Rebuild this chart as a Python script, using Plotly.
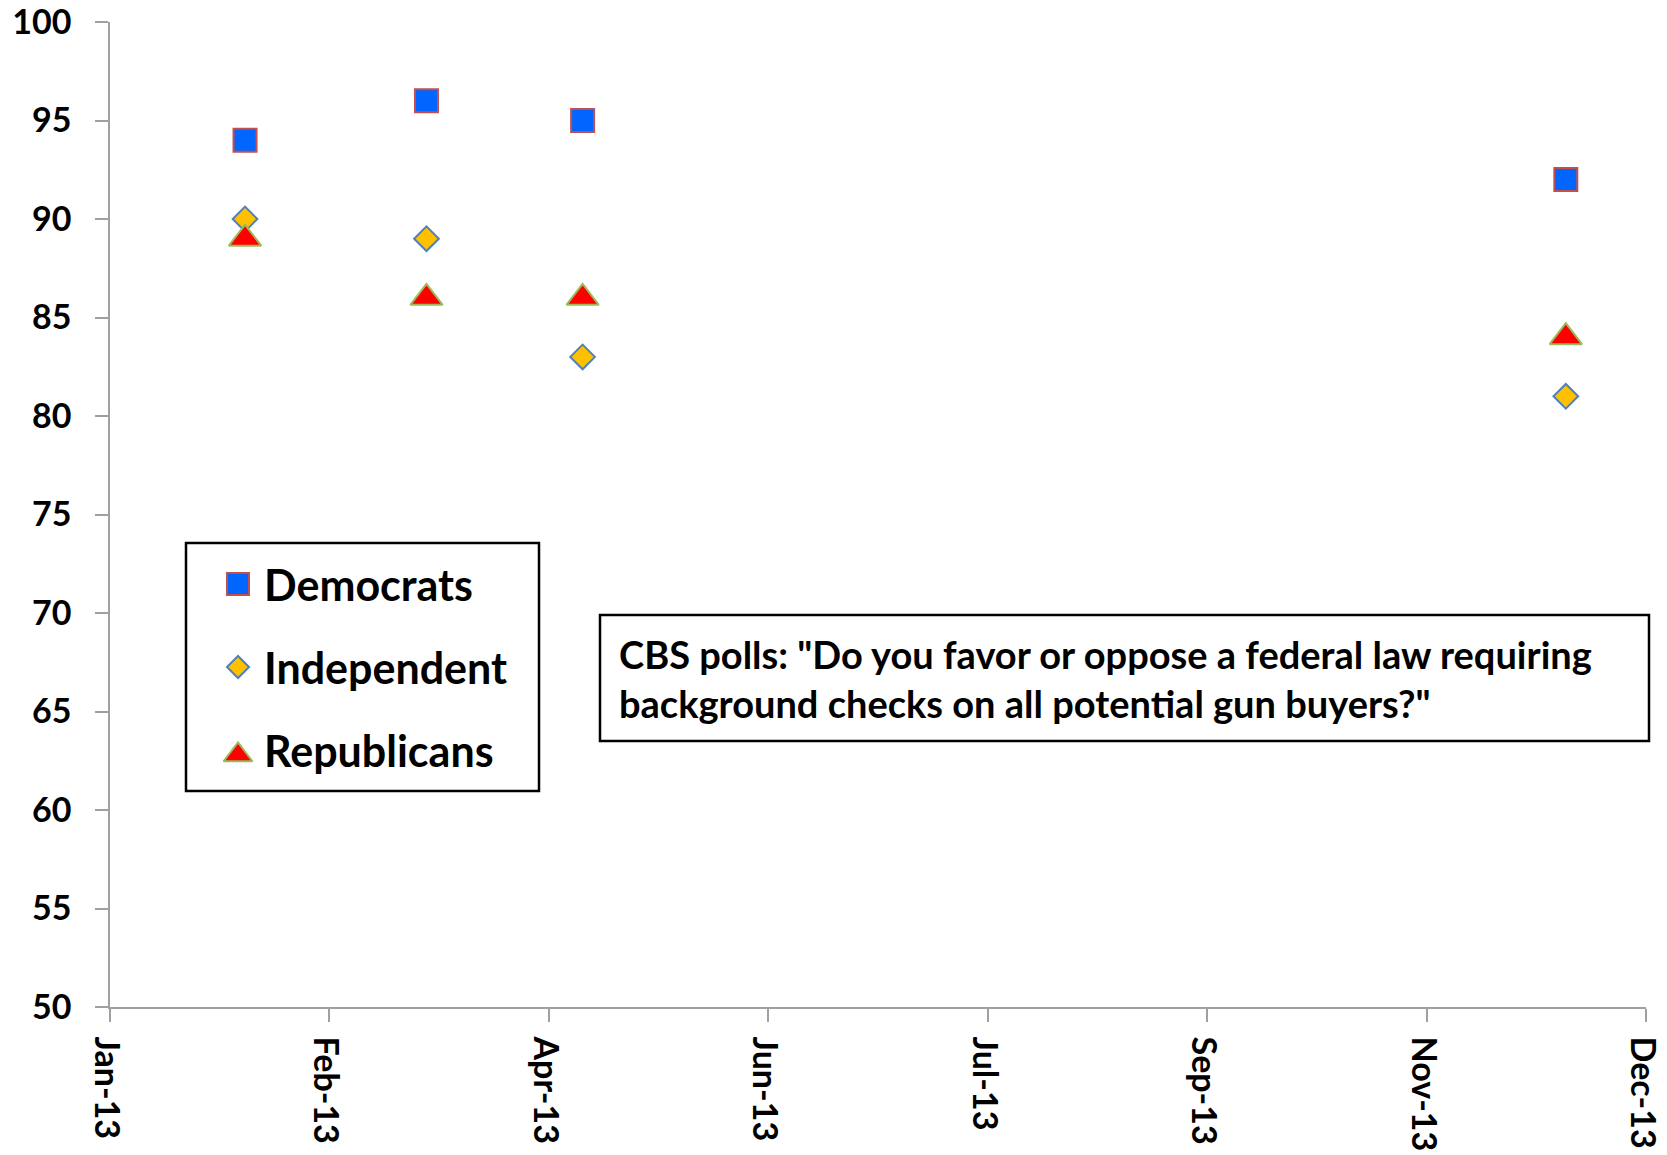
import plotly.graph_objects as go

# CBS poll support for universal background checks, 2013, by party
poll_dates = ["2013-02-02", "2013-03-17", "2013-04-23", "2013-12-12"]
democrats = [94, 96, 95, 92]
independent = [90, 89, 83, 81]
republicans = [89, 86, 86, 84]

series_names = ["Democrats", "Independent", "Republicans"]
note_text = ('CBS polls: "Do you favor or oppose a federal law requiring<br>'
             'background checks on all potential gun buyers?"')

W, H = 1667, 1155
M_L, M_R, M_T, M_B = 110, 21, 22, 148
FONT = "Lato"
PLOT_W = W - M_L - M_R
PLOT_H = H - M_T - M_B


def px_x(p):
    """Page pixel column -> paper fraction."""
    return (p - M_L) / PLOT_W


def px_y(p):
    """Page pixel row -> paper fraction."""
    return 1 - (p - M_T) / PLOT_H


styles = {
    "Democrats": dict(symbol="square", size=23, color="#0066FF",
                      line=dict(color="#C0504D", width=2)),
    "Independent": dict(symbol="diamond", size=19, color="#FFC000",
                        line=dict(color="#4F81BD", width=2)),
    "Republicans": dict(symbol="triangle-up", size=28, color="#FF0000",
                        line=dict(color="#9BBB59", width=2)),
}
key_sizes = {"Democrats": 22, "Independent": 17, "Republicans": 25}

fig = go.Figure()
for name, vals in zip(series_names, [democrats, independent, republicans]):
    fig.add_trace(go.Scatter(x=poll_dates, y=vals, mode="markers", name=name,
                             marker=styles[name], showlegend=False))

# Overlay axes in page pixels, used for the key symbols
x_px = [M_L, W - M_R]
y_px = [H - M_B, M_T]

key_box = (186, 543, 539, 791)
key_rows = [584, 667, 750]
note_box = (600, 615, 1649, 741)

for name, yy in zip(series_names, key_rows):
    m = dict(styles[name])
    m["size"] = key_sizes[name]
    fig.add_trace(go.Scatter(x=[238], y=[yy + (5 if name == "Republicans" else 0)],
                             mode="markers", marker=m, showlegend=False,
                             xaxis="x2", yaxis="y2", hoverinfo="skip"))


def box(b):
    return dict(type="rect", xref="paper", yref="paper",
                x0=px_x(b[0]), y0=px_y(b[3]), x1=px_x(b[2]), y1=px_y(b[1]),
                line=dict(color="black", width=2.5), fillcolor="white",
                layer="below")


shapes = [box(key_box), box(note_box)]

annotations = []
for name, yy in zip(series_names, key_rows):
    annotations.append(dict(xref="paper", yref="paper", x=px_x(262), y=px_y(yy),
                            text=name, showarrow=False, xanchor="left",
                            yanchor="middle",
                            font=dict(family=FONT, size=43, color="black", weight=700)))
annotations.append(dict(xref="paper", yref="paper", x=px_x(617),
                        y=px_y((note_box[1] + note_box[3]) / 2),
                        text=note_text, showarrow=False, xanchor="left",
                        yanchor="middle", align="left",
                        font=dict(family=FONT, size=38, color="black", weight=700)))

tick_font = dict(family=FONT, size=34, color="black", weight=700)

fig.update_layout(
    width=W, height=H,
    margin=dict(l=M_L, r=M_R, t=M_T, b=M_B, pad=0),
    paper_bgcolor="white", plot_bgcolor="white",
    shapes=shapes, annotations=annotations,
    xaxis=dict(type="date", range=["2013-01-01", "2013-12-31"],
               tick0="2013-01-01", dtick=52 * 86400000, tickformat="%b-%y",
               tickangle=90, ticks="outside", ticklen=13, tickwidth=1.5,
               tickcolor="#A0A0A0", showline=True, linecolor="#A0A0A0",
               linewidth=1.5, showgrid=False, zeroline=False,
               tickfont=tick_font, ticklabelstandoff=8, ticklabelshift=-4,
               ticklabeloverflow="allow", automargin=False),
    yaxis=dict(range=[50, 100], dtick=5, ticks="outside", ticklen=13,
               tickwidth=1.5, tickcolor="#A0A0A0", showline=True,
               linecolor="#A0A0A0", linewidth=1.5, showgrid=False,
               zeroline=False, tickfont=tick_font, ticklabelstandoff=17,
               ticklabeloverflow="allow", automargin=False),
    xaxis2=dict(range=x_px, overlaying="x", anchor="y2", visible=False,
                fixedrange=True, automargin=False),
    yaxis2=dict(range=y_px, overlaying="y", anchor="x2", visible=False,
                fixedrange=True, automargin=False),
)

fig.write_html("out.html")
